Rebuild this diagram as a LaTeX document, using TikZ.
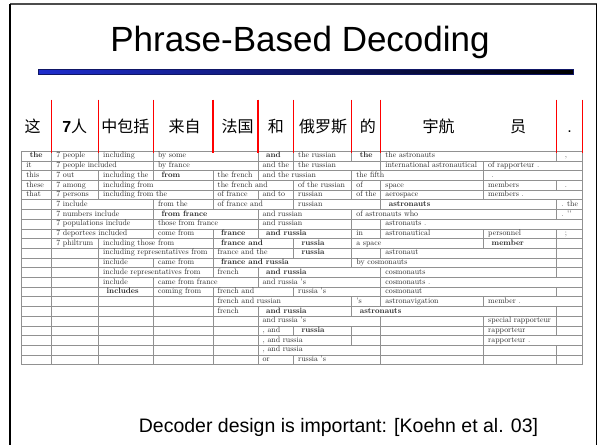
\documentclass[tikz,border=0pt]{standalone}
\usepackage{fontspec}
\newfontfamily\cjk{Noto Sans CJK SC}
\newfontfamily\arial{Liberation Sans}
\newfontfamily\tabfont[BoldFont=lmroman10-bold.otf]{lmroman10-regular.otf}
\definecolor{barblue}{RGB}{30,45,205}
\definecolor{gridgray}{RGB}{145,145,145}
\expandafter\def\csname cx0\endcsname{21.7}
\expandafter\def\csname cx1\endcsname{51.7}
\expandafter\def\csname cx2\endcsname{98.5}
\expandafter\def\csname cx3\endcsname{153.3}
\expandafter\def\csname cx4\endcsname{213}
\expandafter\def\csname cx5\endcsname{258}
\expandafter\def\csname cx6\endcsname{293.5}
\expandafter\def\csname cx7\endcsname{351.7}
\expandafter\def\csname cx8\endcsname{380.7}
\expandafter\def\csname cx9\endcsname{483.5}
\expandafter\def\csname cx10\endcsname{556.7}
\expandafter\def\csname cx11\endcsname{582.7}
\newcommand\cbold[1]{\hspace*{3.5pt}\textbf{#1}}
\newcommand\cpad[1]{\hspace*{3.5pt}#1}
\newcommand\tcell[4]{%
  \pgfmathsetmacro\tcTop{151.3+9.7*(#1-1)}%
  \pgfmathsetmacro\tcBot{\tcTop+9.7}%
  \draw[cellline] (\csname cx\the\numexpr#2-1\relax\endcsname,\tcTop) rectangle (\csname cx#3\endcsname,\tcBot);
  \node[celltext] (r#1c#2) at (\csname cx\the\numexpr#2-1\relax\endcsname+4.5,\tcTop+6.6) {#4};
}
\begin{document}
\begin{tikzpicture}[x=1pt,y=-1pt,
  cellline/.style={draw=gridgray,line width=0.8pt},
  celltext/.style={font=\tabfont\fontsize{7.9}{9}\selectfont,text=black!85,inner sep=0pt,anchor=base west},
  zh/.style={font=\cjk\fontsize{16}{18}\selectfont,inner sep=0pt,anchor=base},
  redline/.style={draw=red,line width=1.4pt}]
\path[use as bounding box] (0,0) rectangle (600,445);
\fill[white] (0,0) rectangle (600,445);
% frame
\draw[black!70,line width=1.2pt] (10,4) -- (596.5,4);
\draw[black,line width=2pt] (10,4) -- (10,445);
\draw[black,line width=1.4pt] (596.5,4) -- (596.5,445);
% title
\node[font=\arial\fontsize{35}{40}\selectfont,inner sep=0pt,anchor=base] (title) at (300,51) {Phrase-Based Decoding};
\shadedraw[left color=barblue,right color=black,draw=barblue!50!black,line width=0.5pt] (38,69.5) rectangle (573,74.5);
% chinese words
\node[zh] (w1) at (32.6,132.5) {这};
\node[zh] (w2) at (74.7,132.5) {{\arial\bfseries 7}人};
\node[zh] (w3) at (125.3,132.5) {中包括};
\node[zh] (w4) at (184.7,132.5) {来自};
\node[zh] (w5) at (237.5,132.5) {法国};
\node[zh] (w6) at (275.9,132.5) {和};
\node[zh] (w7) at (323,132.5) {俄罗斯};
\node[zh] (w8) at (367.8,132.5) {的};
\node[zh] (w9) at (438.7,132.5) {宇航};
\node[zh] (w10) at (518,132.5) {员};
\node[font=\arial\fontsize{16}{18}\selectfont,inner sep=0pt,anchor=base] (w11) at (569.7,132.5) {.};
% table
\tcell{1}{1}{1}{\cbold{the}}
\tcell{1}{2}{2}{7 people}
\tcell{1}{3}{3}{including}
\tcell{1}{4}{5}{by some}
\tcell{1}{6}{6}{\cbold{and}}
\tcell{1}{7}{7}{the russian}
\tcell{1}{8}{8}{\cbold{the}}
\tcell{1}{9}{10}{the astronauts}
\tcell{1}{11}{11}{\cpad{,}}
\tcell{2}{1}{1}{it}
\tcell{2}{2}{3}{7 people included}
\tcell{2}{4}{5}{by france}
\tcell{2}{6}{6}{and the}
\tcell{2}{7}{8}{the russian}
\tcell{2}{9}{9}{international astronautical}
\tcell{2}{10}{11}{of rapporteur .}
\tcell{3}{1}{1}{this}
\tcell{3}{2}{2}{7 out}
\tcell{3}{3}{3}{including the}
\tcell{3}{4}{4}{\cbold{from}}
\tcell{3}{5}{5}{the french}
\tcell{3}{6}{7}{and the russian}
\tcell{3}{8}{9}{the fifth}
\tcell{3}{10}{11}{\cpad{.}}
\tcell{4}{1}{1}{these}
\tcell{4}{2}{2}{7 among}
\tcell{4}{3}{4}{including from}
\tcell{4}{5}{6}{the french and}
\tcell{4}{7}{7}{of the russian}
\tcell{4}{8}{8}{of}
\tcell{4}{9}{9}{space}
\tcell{4}{10}{10}{members}
\tcell{4}{11}{11}{\cpad{.}}
\tcell{5}{1}{1}{that}
\tcell{5}{2}{2}{7 persons}
\tcell{5}{3}{4}{including from the}
\tcell{5}{5}{5}{of france}
\tcell{5}{6}{6}{and to}
\tcell{5}{7}{7}{russian}
\tcell{5}{8}{8}{of the}
\tcell{5}{9}{9}{aerospace}
\tcell{5}{10}{11}{members .}
\tcell{6}{1}{1}{}
\tcell{6}{2}{3}{7 include}
\tcell{6}{4}{4}{from the}
\tcell{6}{5}{6}{of france and}
\tcell{6}{7}{8}{russian}
\tcell{6}{9}{10}{\cbold{astronauts}}
\tcell{6}{11}{11}{. the}
\tcell{7}{1}{1}{}
\tcell{7}{2}{3}{7 numbers include}
\tcell{7}{4}{5}{\cbold{from france}}
\tcell{7}{6}{7}{and russian}
\tcell{7}{8}{10}{of astronauts who}
\tcell{7}{11}{11}{. ''}
\tcell{8}{1}{1}{}
\tcell{8}{2}{3}{7 populations include}
\tcell{8}{4}{5}{those from france}
\tcell{8}{6}{7}{and russian}
\tcell{8}{8}{8}{}
\tcell{8}{9}{11}{astronauts .}
\tcell{9}{1}{1}{}
\tcell{9}{2}{3}{7 deportees included}
\tcell{9}{4}{4}{come from}
\tcell{9}{5}{5}{\cbold{france}}
\tcell{9}{6}{7}{\cbold{and russia}}
\tcell{9}{8}{8}{in}
\tcell{9}{9}{9}{astronautical}
\tcell{9}{10}{10}{personnel}
\tcell{9}{11}{11}{\cpad{;}}
\tcell{10}{1}{1}{}
\tcell{10}{2}{2}{7 philtrum}
\tcell{10}{3}{4}{including those from}
\tcell{10}{5}{6}{\cbold{france and}}
\tcell{10}{7}{7}{\cbold{russia}}
\tcell{10}{8}{9}{a space}
\tcell{10}{10}{10}{\cbold{member}}
\tcell{10}{11}{11}{}
\tcell{11}{1}{1}{}
\tcell{11}{2}{2}{}
\tcell{11}{3}{4}{including representatives from}
\tcell{11}{5}{6}{france and the}
\tcell{11}{7}{7}{\cbold{russia}}
\tcell{11}{8}{8}{}
\tcell{11}{9}{10}{astronaut}
\tcell{11}{11}{11}{}
\tcell{12}{1}{1}{}
\tcell{12}{2}{2}{}
\tcell{12}{3}{3}{include}
\tcell{12}{4}{4}{came from}
\tcell{12}{5}{7}{\cbold{france and russia}}
\tcell{12}{8}{10}{by cosmonauts}
\tcell{12}{11}{11}{}
\tcell{13}{1}{1}{}
\tcell{13}{2}{2}{}
\tcell{13}{3}{4}{include representatives from}
\tcell{13}{5}{5}{french}
\tcell{13}{6}{8}{\cbold{and russia}}
\tcell{13}{9}{10}{cosmonauts}
\tcell{13}{11}{11}{}
\tcell{14}{1}{1}{}
\tcell{14}{2}{2}{}
\tcell{14}{3}{3}{include}
\tcell{14}{4}{5}{came from france}
\tcell{14}{6}{8}{and russia 's}
\tcell{14}{9}{11}{cosmonauts .}
\tcell{15}{1}{1}{}
\tcell{15}{2}{2}{}
\tcell{15}{3}{3}{\cbold{includes}}
\tcell{15}{4}{4}{coming from}
\tcell{15}{5}{6}{french and}
\tcell{15}{7}{8}{russia 's}
\tcell{15}{9}{10}{cosmonaut}
\tcell{15}{11}{11}{}
\tcell{16}{1}{1}{}
\tcell{16}{2}{2}{}
\tcell{16}{3}{3}{}
\tcell{16}{4}{4}{}
\tcell{16}{5}{7}{french and russian}
\tcell{16}{8}{8}{'s}
\tcell{16}{9}{9}{astronavigation}
\tcell{16}{10}{11}{member .}
\tcell{17}{1}{1}{}
\tcell{17}{2}{2}{}
\tcell{17}{3}{3}{}
\tcell{17}{4}{4}{}
\tcell{17}{5}{5}{french}
\tcell{17}{6}{7}{\cbold{and russia}}
\tcell{17}{8}{10}{\cbold{astronauts}}
\tcell{17}{11}{11}{}
\tcell{18}{1}{1}{}
\tcell{18}{2}{2}{}
\tcell{18}{3}{3}{}
\tcell{18}{4}{4}{}
\tcell{18}{5}{5}{}
\tcell{18}{6}{8}{and russia 's}
\tcell{18}{9}{9}{}
\tcell{18}{10}{10}{special rapporteur}
\tcell{18}{11}{11}{}
\tcell{19}{1}{1}{}
\tcell{19}{2}{2}{}
\tcell{19}{3}{3}{}
\tcell{19}{4}{4}{}
\tcell{19}{5}{5}{}
\tcell{19}{6}{6}{, and}
\tcell{19}{7}{7}{\cbold{russia}}
\tcell{19}{8}{8}{}
\tcell{19}{9}{9}{}
\tcell{19}{10}{10}{rapporteur}
\tcell{19}{11}{11}{}
\tcell{20}{1}{1}{}
\tcell{20}{2}{2}{}
\tcell{20}{3}{3}{}
\tcell{20}{4}{4}{}
\tcell{20}{5}{5}{}
\tcell{20}{6}{7}{, and russia}
\tcell{20}{8}{8}{}
\tcell{20}{9}{9}{}
\tcell{20}{10}{11}{rapporteur .}
\tcell{21}{1}{1}{}
\tcell{21}{2}{2}{}
\tcell{21}{3}{3}{}
\tcell{21}{4}{4}{}
\tcell{21}{5}{5}{}
\tcell{21}{6}{8}{, and russia}
\tcell{21}{9}{9}{}
\tcell{21}{10}{10}{}
\tcell{21}{11}{11}{}
\tcell{22}{1}{1}{}
\tcell{22}{2}{2}{}
\tcell{22}{3}{3}{}
\tcell{22}{4}{4}{}
\tcell{22}{5}{5}{}
\tcell{22}{6}{6}{or}
\tcell{22}{7}{8}{russia 's}
\tcell{22}{9}{9}{}
\tcell{22}{10}{10}{}
\tcell{22}{11}{11}{}
% red separators
\foreach \k in {1,...,8,10,11} {
  \draw[redline] (\csname cx\k\endcsname,99.5) -- (\csname cx\k\endcsname,152.5);
}
% bottom text
\node[font=\arial\fontsize{19.5}{22}\selectfont,inner sep=0pt,anchor=base] (note) at (338.5,432) {Decoder design is important: [Koehn et al. 03]};
\end{tikzpicture}
\end{document}
